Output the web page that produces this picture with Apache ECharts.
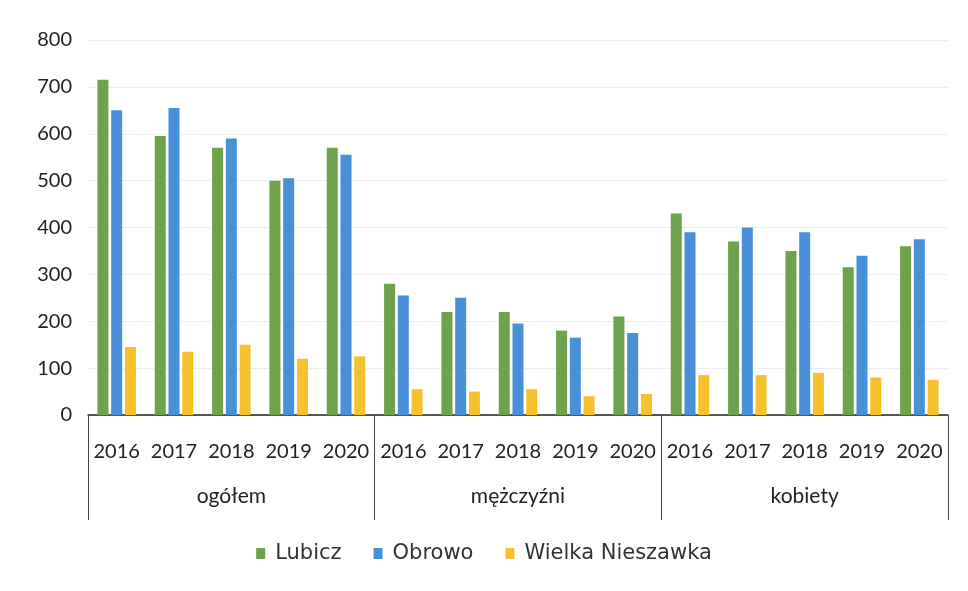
<!DOCTYPE html>
<html>
<head>
<meta charset="utf-8">
<script src="https://cdn.jsdelivr.net/npm/echarts@6/dist/echarts.min.js"></script>
<style>
  html, body { margin: 0; padding: 0; background: #fff; }
  #chart { width: 968px; height: 591px; }
</style>
</head>
<body>
<div id="chart"></div>
<script>
// kategorie
var years = ['2016', '2017', '2018', '2019', '2020'];
var groups = ['ogółem', 'mężczyźni', 'kobiety'];

// wartości: ogółem, mężczyźni, kobiety (po 5 lat)
var lubicz = [715, 595, 570, 500, 570, 280, 220, 220, 180, 210, 430, 370, 350, 315, 360];
var obrowo = [650, 655, 590, 505, 555, 255, 250, 195, 165, 175, 390, 400, 390, 340, 375];
var wielkaNieszawka = [145, 135, 150, 120, 125, 55, 50, 55, 40, 45, 85, 85, 90, 80, 75];

var yTicks = [0, 100, 200, 300, 400, 500, 600, 700, 800];

var yearLabels = [];
groups.forEach(function () { years.forEach(function (y) { yearLabels.push(y); }); });

var font = 'Lato';
var chart = echarts.init(document.getElementById('chart'));

var option = {
  backgroundColor: '#ffffff',
  color: ['#6ea24c', '#4a90d9', '#f6c12e'],
  textStyle: { fontFamily: font },
  grid: { left: 88, right: 20, top: 40, bottom: 176 },
  legend: {
    bottom: 22,
    left: 'center',
    itemWidth: 9,
    itemHeight: 11,
    itemGap: 32,
    icon: 'rect',
    textStyle: { fontSize: 21, color: '#333', fontFamily: 'DejaVu Sans', padding: [0, 0, 0, 5] },
    data: ['Lubicz', 'Obrowo', 'Wielka Nieszawka']
  },
  xAxis: [
    {
      type: 'category',
      data: yearLabels,
      axisLine: { lineStyle: { color: '#222', width: 1.5 } },
      axisTick: { show: false },
      axisLabel: { interval: 0, fontSize: 20, color: '#222', margin: 27, fontFamily: font }
    },
    {
      type: 'category',
      data: groups,
      position: 'bottom',
      axisLine: { show: false },
      axisTick: { show: true, length: 105, interval: 0, lineStyle: { color: '#444', width: 1 } },
      axisLabel: { interval: 0, fontSize: 21, color: '#222', margin: 71, fontFamily: font },
      splitLine: { show: false }
    }
  ],
  yAxis: {
    type: 'value',
    min: yTicks[0],
    max: yTicks[yTicks.length - 1],
    interval: 100,
    axisLine: { show: false },
    axisTick: { show: false },
    axisLabel: { fontSize: 20, color: '#222', margin: 16, fontFamily: font },
    splitLine: { lineStyle: { color: '#ededed' } }
  },
  series: [
    { name: 'Lubicz', type: 'bar', xAxisIndex: 0, data: lubicz, barWidth: 11, barGap: '25%' },
    { name: 'Obrowo', type: 'bar', xAxisIndex: 0, data: obrowo, barWidth: 11, barGap: '25%' },
    { name: 'Wielka Nieszawka', type: 'bar', xAxisIndex: 0, data: wielkaNieszawka, barWidth: 11, barGap: '25%' }
  ]
};

chart.setOption(option);
</script>
</body>
</html>
